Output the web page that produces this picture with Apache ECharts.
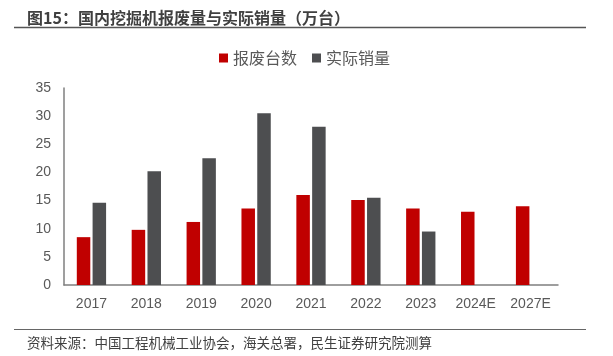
<!DOCTYPE html>
<html>
<head>
<meta charset="utf-8">
<script src="https://cdn.jsdelivr.net/npm/echarts@6/dist/echarts.min.js"></script>
<style>
html,body{margin:0;padding:0;background:#fff;}
#c{width:613px;height:356px;}
</style>
</head>
<body>
<div id="c"></div>
<script>
var categories = ['2017','2018','2019','2020','2021','2022','2023','2024E','2027E'];
var scrapped = [8.5, 9.8, 11.2, 13.6, 16.0, 15.1, 13.6, 13.0, 14.0];
var sales = [14.6, 20.2, 22.5, 30.5, 28.1, 15.5, 9.5, null, null];
var seriesNames = ['报废台数', '实际销量'];
var titleText = '图15：国内挖掘机报废量与实际销量（万台）';
var sourceText = '资料来源：中国工程机械工业协会，海关总署，民生证券研究院测算';

var chart = echarts.init(document.getElementById('c'));
var cjk = '"Noto Sans CJK SC", "Noto Sans", sans-serif';
chart.setOption({
  animation: false,
  backgroundColor: '#fff',
  title: [{
    text: titleText,
    left: 22, top: 5,
    textStyle: {fontSize: 16, fontWeight: 'bold', color: '#404040', fontFamily: cjk}
  }, {
    text: sourceText,
    left: 22, top: 331,
    textStyle: {fontSize: 13.5, fontWeight: 'normal', color: '#404040', fontFamily: cjk}
  }],
  graphic: [
    {type: 'line', shape: {x1: 14, y1: 27.5, x2: 586, y2: 27.5}, style: {stroke: '#555', lineWidth: 1.5}},
    {type: 'line', shape: {x1: 14, y1: 329.5, x2: 586, y2: 329.5}, style: {stroke: '#666', lineWidth: 1.2}}
  ],
  legend: {
    data: seriesNames,
    left: 214, top: 45,
    itemWidth: 9, itemHeight: 9, itemGap: 15,
    icon: 'rect',
    textStyle: {fontSize: 16, color: '#595959', fontFamily: cjk}
  },
  grid: {left: 64, right: 55, top: 88, bottom: 71, containLabel: false},
  xAxis: {
    type: 'category',
    data: categories,
    axisLine: {lineStyle: {color: '#7f7f7f', width: 1.5}},
    axisTick: {show: false},
    axisLabel: {fontSize: 14, color: '#595959', margin: 12, fontFamily: 'Liberation Sans, Arial, sans-serif'}
  },
  yAxis: {
    type: 'value',
    min: 0, max: 35, interval: 5,
    axisLine: {show: true, lineStyle: {color: '#7f7f7f', width: 1.5}},
    axisTick: {show: false},
    splitLine: {show: false},
    axisLabel: {fontSize: 14, color: '#595959', margin: 13, fontFamily: 'Liberation Sans, Arial, sans-serif'}
  },
  series: [{
    name: seriesNames[0], type: 'bar', data: scrapped,
    barWidth: 13.5, barGap: '17%',
    itemStyle: {color: '#C00000'}
  }, {
    name: seriesNames[1], type: 'bar', data: sales,
    barWidth: 13.5,
    itemStyle: {color: '#4D4E50'}
  }]
});
</script>
</body>
</html>
